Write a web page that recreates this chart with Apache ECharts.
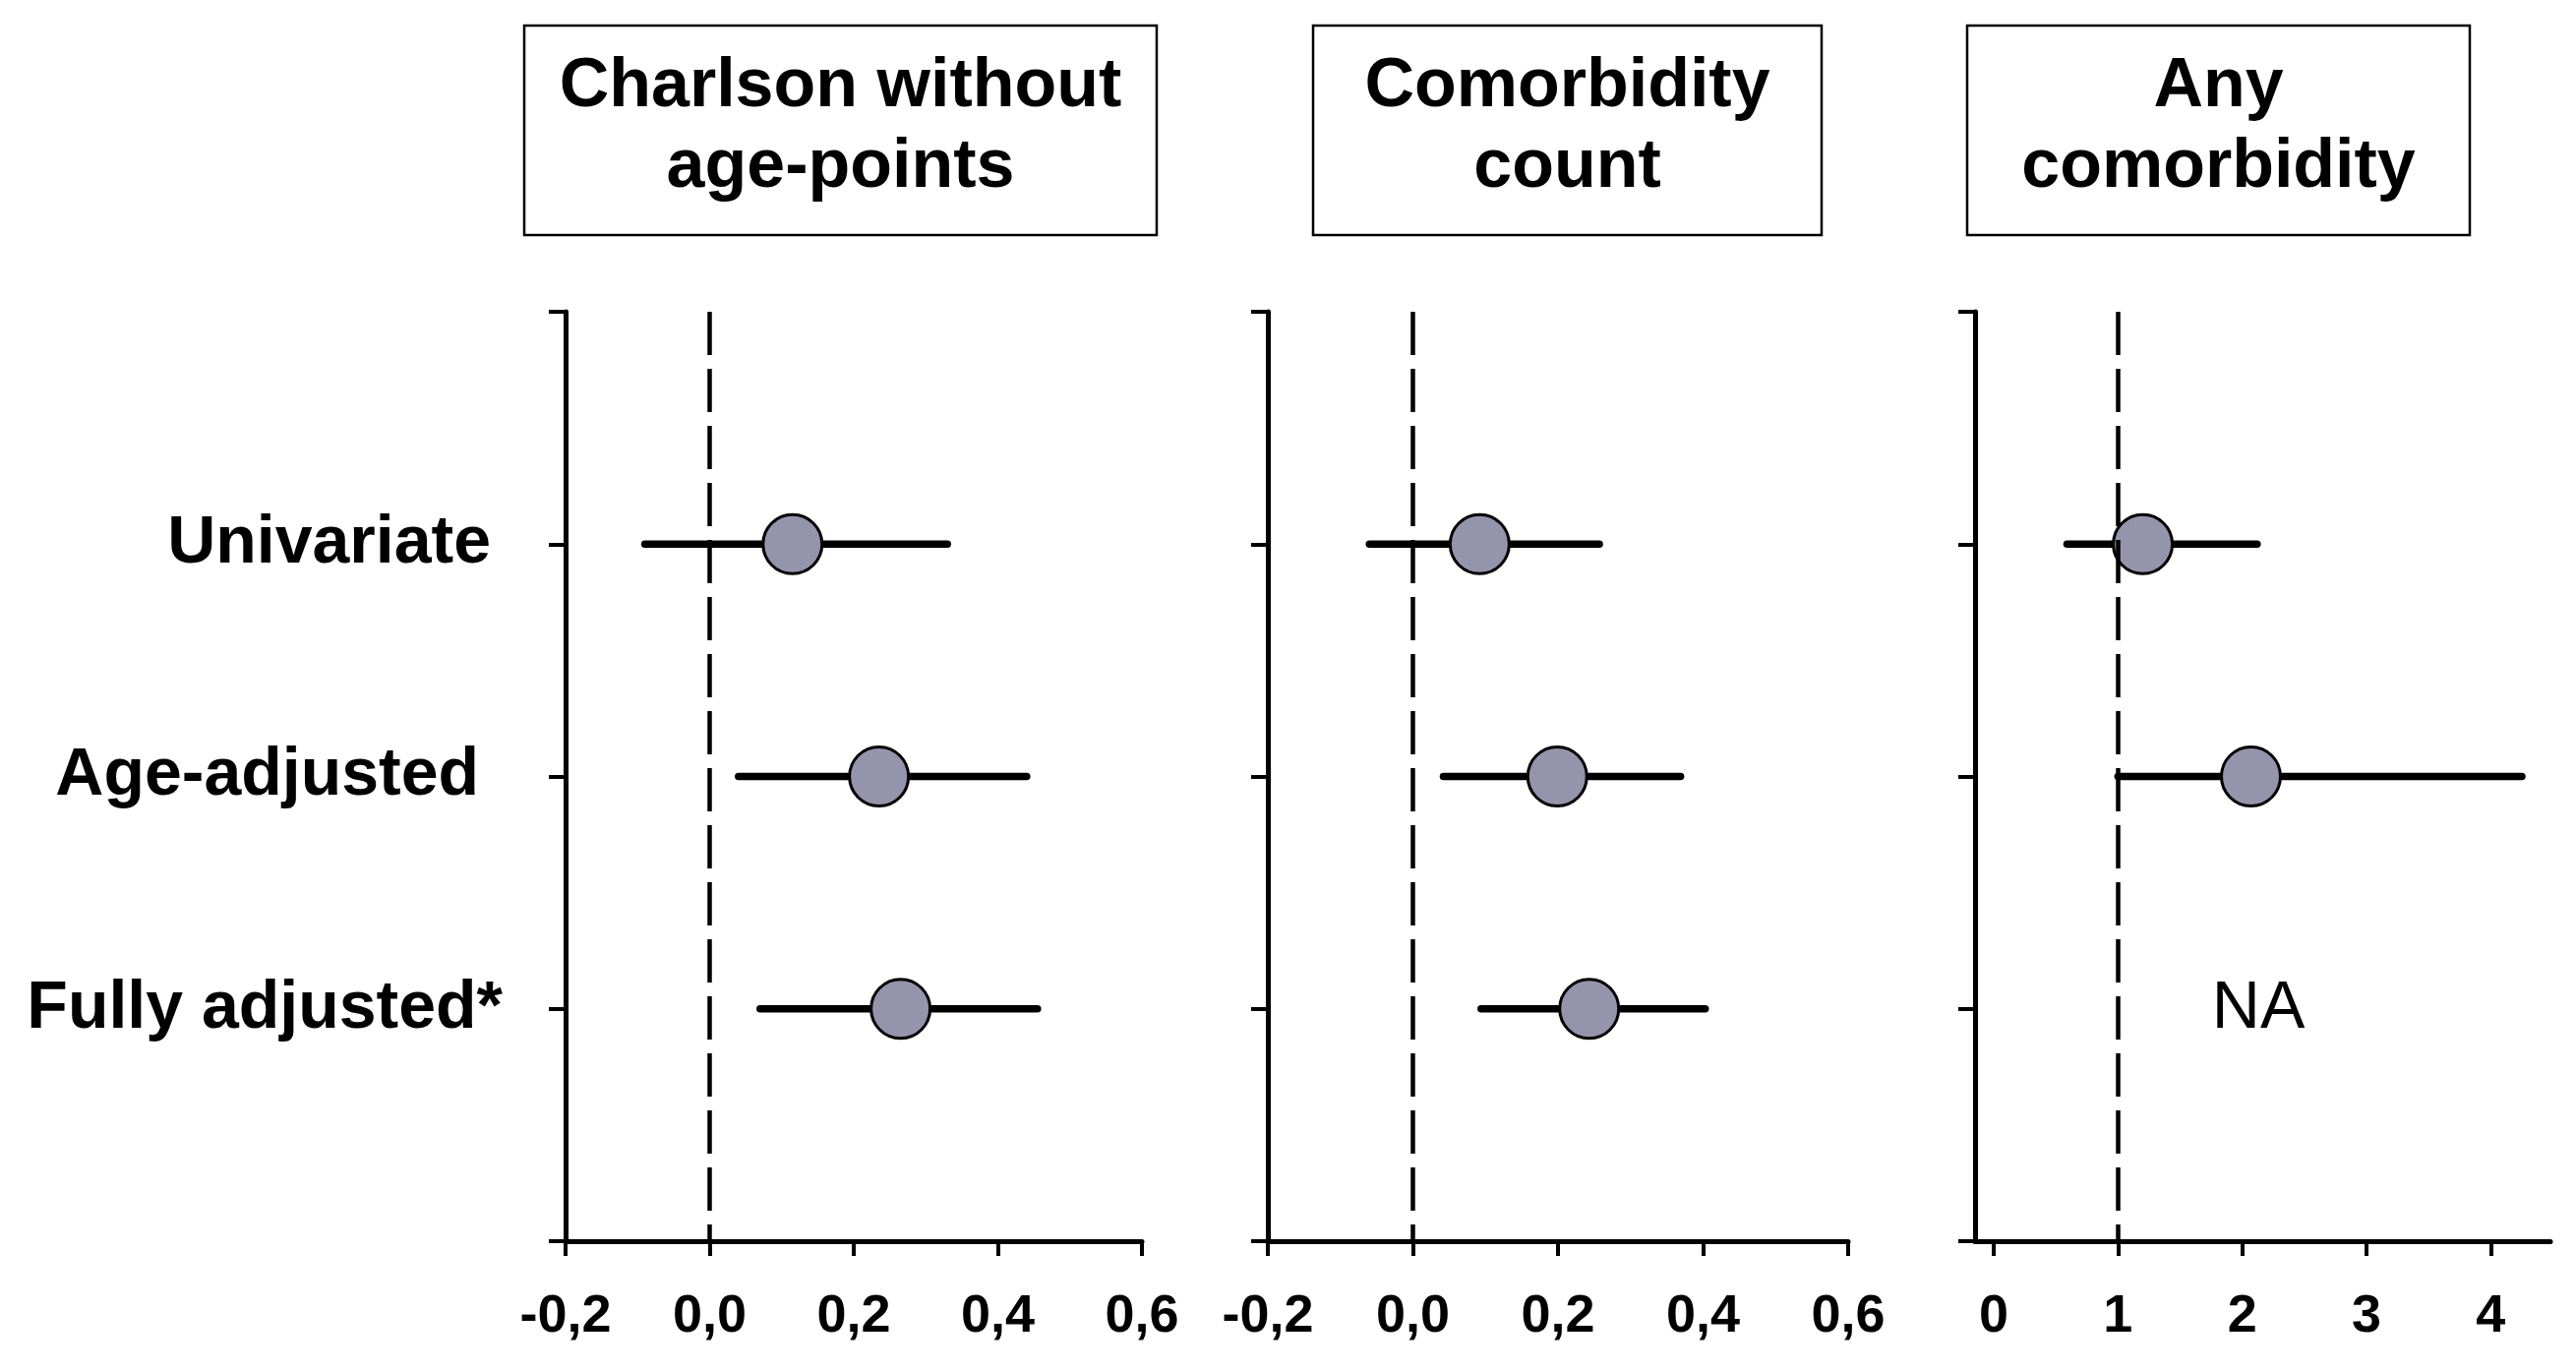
<!DOCTYPE html>
<html><head><meta charset="utf-8">
<script src="https://cdn.jsdelivr.net/npm/echarts@6/dist/echarts.min.js"></script>
<style>html,body{margin:0;padding:0;background:#fff}#c{width:2619px;height:1394px}</style>
</head><body><div id="c"></div>
<script>
// ---- data ----
const categories = ['Univariate', 'Age-adjusted', 'Fully adjusted*'];
const panelTitles = ['Charlson without\nage-points', 'Comorbidity\ncount', 'Any\ncomorbidity'];
const charlsonEst = [0.115, 0.235, 0.265];
const charlsonLow = [-0.09, 0.04, 0.07];
const charlsonHigh = [0.33, 0.44, 0.455];
const countEst = [0.092, 0.199, 0.243];
const countLow = [-0.06, 0.042, 0.094];
const countHigh = [0.257, 0.369, 0.403];
const anyEst = [1.2, 2.07, null];
const anyLow = [0.59, 1.0, null];
const anyHigh = [2.12, 4.25, null];
const naLabel = 'NA';
const naValue = [2.13, 3];
const refLines = [0, 0, 1];
const ticksDiff = [-0.2, 0, 0.2, 0.4, 0.6];
const ticksOR = [0, 1, 2, 3, 4];

// ---- layout/style ----
const FONT = "'Liberation Sans', Arial, sans-serif";
const grids = [
  {left: 575, top: 317, width: 586, height: 945},
  {left: 1289, top: 317, width: 590, height: 945},
  {left: 2008, top: 317, width: 585, height: 945}
];
const boxes = [
  {x: 533, w: 643}, {x: 1335, w: 517}, {x: 2000, w: 511}
];
const panels = [
  {est: charlsonEst, low: charlsonLow, high: charlsonHigh},
  {est: countEst, low: countLow, high: countHigh},
  {est: anyEst, low: anyLow, high: anyHigh}
];

const chart = echarts.init(document.getElementById('c'));

const xAxes = grids.map((g, i) => {
  const isOR = i === 2;
  const ax = {
    gridIndex: i, type: 'value',
    min: isOR ? -0.15 : ticksDiff[0],
    max: isOR ? 4.48 : ticksDiff[ticksDiff.length - 1],
    axisLine: {show: true, onZero: false, lineStyle: {color: '#000', width: 5}},
    axisTick: {show: true, length: 15, lineStyle: {color: '#000', width: 4}},
    splitLine: {show: false},
    axisLabel: {
      color: '#000', fontSize: 54, fontWeight: 'bold', fontFamily: FONT, margin: 50,
      formatter: v => isOR ? String(Math.round(v)) : (Math.round(v * 10) / 10).toFixed(1).replace('.', ',')
    }
  };
  if (isOR) {
    ax.axisTick.customValues = ticksOR;
    ax.axisLabel.customValues = ticksOR;
  } else {
    ax.interval = 0.2;
  }
  return ax;
});

const richLab = {
  p1: {fontSize: 68, fontWeight: 'bold', fontFamily: FONT, color: '#000', padding: [0, 12, 0, 0]},
  p2: {fontSize: 68, fontWeight: 'bold', fontFamily: FONT, color: '#000', padding: [0, 24, 0, 0]},
  p3: {fontSize: 68, fontWeight: 'bold', fontFamily: FONT, color: '#000', padding: [0, 0, 0, 0]}
};

const yAxes = grids.map((g, i) => ({
  gridIndex: i, type: 'value', min: 0, max: 4, interval: 1, inverse: true,
  axisLine: {show: true, onZero: false, lineStyle: {color: '#000', width: 5}},
  axisTick: {show: true, length: 17, lineStyle: {color: '#000', width: 4}},
  splitLine: {show: false},
  axisLabel: {
    show: i === 0, margin: 64, fontSize: 68, fontWeight: 'bold', fontFamily: FONT, color: '#000',
    formatter: v => (v >= 1 && v <= categories.length) ? `{p${v}|${categories[v - 1]}}` : '',
    rich: richLab
  }
}));

const series = [];
panels.forEach((p, i) => {
  const errData = [];
  p.low.forEach((l, k) => { if (l != null) errData.push([l, p.high[k], k + 1]); });
  series.push({
    type: 'custom', xAxisIndex: i, yAxisIndex: i, z: 2, silent: true,
    data: errData,
    encode: {x: [0, 1], y: 2},
    renderItem: (params, api) => {
      const a = api.coord([api.value(0), api.value(2)]);
      const b = api.coord([api.value(1), api.value(2)]);
      return {type: 'line', shape: {x1: a[0], y1: a[1], x2: b[0], y2: b[1]},
        style: {stroke: '#000', lineWidth: 7.5, lineCap: 'round'}};
    }
  });
  const ptData = [];
  p.est.forEach((e, k) => { if (e != null) ptData.push([e, k + 1]); });
  series.push({
    type: 'scatter', xAxisIndex: i, yAxisIndex: i, z: 3, silent: true,
    data: ptData, symbol: 'circle', symbolSize: 60,
    itemStyle: {color: '#9494AC', borderColor: '#000', borderWidth: 3, opacity: 1},
    emphasis: {disabled: true},
    markLine: {
      silent: true, symbol: 'none', animation: false,
      label: {show: false},
      lineStyle: {color: '#000', width: 4.5, type: [44, 14]},
      data: [{xAxis: refLines[i]}]
    }
  });
});
series.push({
  type: 'custom', xAxisIndex: 2, yAxisIndex: 2, z: 4, silent: true,
  data: [naValue],
  encode: {x: 0, y: 1},
  renderItem: (params, api) => {
    const c = api.coord([api.value(0), api.value(1)]);
    return {type: 'text', x: c[0], y: c[1],
      style: {text: naLabel, fill: '#000', font: `normal 68px ${FONT}`, align: 'center', verticalAlign: 'middle'}};
  }
});

const graphic = [];
boxes.forEach((b, i) => {
  graphic.push({type: 'rect', silent: true, shape: {x: b.x, y: 26, width: b.w, height: 213},
    style: {fill: '#fff', stroke: '#000', lineWidth: 2.5}});
  graphic.push({type: 'text', silent: true, x: b.x + b.w / 2, y: 130,
    style: {text: panelTitles[i], fill: '#000', font: `bold 70px ${FONT}`, lineHeight: 82,
      align: 'center', verticalAlign: 'middle'}});
});

chart.setOption({
  animation: false,
  backgroundColor: '#fff',
  grid: grids,
  xAxis: xAxes,
  yAxis: yAxes,
  series: series,
  graphic: graphic
});
</script>
</body></html>
